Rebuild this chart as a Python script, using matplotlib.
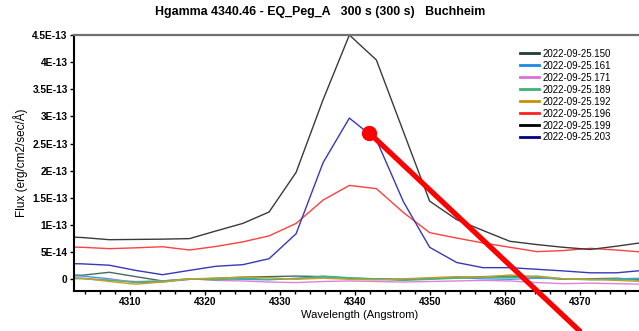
import matplotlib
matplotlib.use('Agg')
import matplotlib.pyplot as plt
from matplotlib.lines import Line2D
from matplotlib.ticker import FuncFormatter, MultipleLocator

plt.rcParams['font.family'] = ['Liberation Sans', 'DejaVu Sans']

# wavelength grid (Angstrom)
wavelength = [4300.0, 4303.6, 4307.2, 4310.7, 4314.3, 4317.9, 4321.4, 4325.0,
              4328.5, 4332.1, 4335.7, 4339.2, 4342.8, 4346.4, 4349.9, 4353.5,
              4357.0, 4360.6, 4364.2, 4367.7, 4371.3, 4374.8, 4378.4, 4382.0]

# flux in units of 1e-14 erg/cm2/sec/A
flux_150 = [0.9, 0.75, 1.3, 0.5, -0.3, 0.0, 0.2, 0.4, 0.5, 0.6, 0.5, 0.2,
            0.1, 0.0, 0.1, 0.3, 0.5, 0.6, 0.4, 0.0, 0.1, 0.2, -0.1, -0.2]
flux_161 = [0.7, 0.6, 0.1, -0.6, -0.5, 0.0, 0.1, 0.0, -0.1, 0.2, 0.4, 0.2,
            0.1, 0.0, 0.2, 0.3, 0.1, 0.0, 0.2, 0.1, 0.0, 0.1, 0.2, 0.2]
flux_171 = [0.3, 0.2, -0.1, -0.4, -0.3, 0.1, -0.2, -0.3, -0.5, -0.6, -0.4, -0.3,
            -0.4, -0.5, -0.4, -0.3, -0.2, -0.3, -0.6, -0.8, -0.7, -0.8, -0.9, -0.9]
flux_189 = [0.2, 0.1, -0.2, -0.5, -0.3, 0.1, -0.1, 0.2, 0.0, 0.1, 0.6, 0.3,
            0.0, -0.2, 0.0, 0.2, 0.4, 0.3, 0.6, 0.1, -0.1, 0.0, -0.2, -0.3]
flux_192 = [0.4, 0.2, -0.4, -0.9, -0.5, 0.1, 0.2, 0.4, 0.3, 0.0, 0.2, 0.0,
            -0.1, 0.1, 0.3, 0.5, 0.4, 0.8, 0.5, 0.1, 0.0, -0.2, -0.4, -0.5]
flux_196 = [6.0, 5.9, 5.65, 5.8, 6.0, 5.4, 6.05, 6.9, 8.0, 10.3, 14.6, 17.3,
            16.7, 12.3, 8.6, 7.6, 6.7, 5.9, 5.1, 5.3, 5.7, 5.4, 5.0, 4.8]
flux_199 = [7.9, 7.7, 7.3, 7.35, 7.4, 7.5, 8.9, 10.3, 12.4, 19.7, 33.1, 45.0,
            40.4, 27.2, 14.4, 11.0, 9.0, 7.0, 6.4, 5.9, 5.5, 6.1, 6.8, 7.2]
flux_203 = [2.95, 2.85, 2.6, 1.65, 0.85, 1.65, 2.4, 2.7, 3.8, 8.4, 21.5, 29.7,
            25.7, 14.3, 5.9, 3.1, 2.15, 2.15, 1.85, 1.55, 1.2, 1.2, 1.65, 1.9]

labels = ['2022-09-25.150', '2022-09-25.161', '2022-09-25.171', '2022-09-25.189',
          '2022-09-25.192', '2022-09-25.196', '2022-09-25.199', '2022-09-25.203']
series = [flux_150, flux_161, flux_171, flux_189, flux_192, flux_196, flux_199, flux_203]
legend_colors = ['#1f3d35', '#1e88e5', '#da70d6', '#3cb371',
                 '#c8900a', '#ff2020', '#000000', '#000080']
line_colors = ['#4a6a60', '#3aa0e8', '#e080dc', '#40b870',
               '#c8a020', '#ff4040', '#3a3a3a', '#3838b8']


def flux_label(v, pos):
    if abs(v) < 1e-20:
        return '0'
    return '{:.1E}'.format(v).replace('.0E', 'E')


fig = plt.figure(figsize=(6.39, 3.31), dpi=100)
ax = fig.add_axes([74 / 639, 40 / 331, 571 / 639, 256 / 331])

for values, color in zip(series, line_colors):
    ax.plot(wavelength, [v * 1e-14 for v in values], color=color, lw=1.0)

ax.set_xlim(4302.5, 4378.6)
ax.set_ylim(-2.15e-14, 4.5e-13)
ax.xaxis.set_major_locator(MultipleLocator(10))
ax.xaxis.set_minor_locator(MultipleLocator(2))
ax.yaxis.set_major_locator(MultipleLocator(5e-14))
ax.yaxis.set_major_formatter(FuncFormatter(flux_label))
ax.tick_params(which='both', direction='out', labelsize=7.3, width=1, pad=1.5)
ax.tick_params(which='major', length=3)
ax.tick_params(which='minor', length=2)
for lab in ax.get_xticklabels() + ax.get_yticklabels():
    lab.set_fontweight('bold')

for side in ['left', 'bottom']:
    ax.spines[side].set_linewidth(1.5)
ax.spines['top'].set_color('#707070')
ax.spines['top'].set_linewidth(1.6)
ax.spines['right'].set_visible(False)

ax.set_xlabel('Wavelength (Angstrom)', fontsize=8, labelpad=2)
ax.set_ylabel('Flux (erg/cm2/sec/Å)', fontsize=8.5, labelpad=3)

fig.text(320 / 639, 1 - 12 / 331,
         'Hgamma 4340.46 - EQ_Peg_A   300 s (300 s)   Buchheim',
         ha='center', va='center', fontsize=8.9, fontweight='bold')

handles = [Line2D([], [], color=c, lw=2) for c in legend_colors]
ax.legend(handles, labels, loc='upper left', frameon=False, fontsize=7,
          bbox_to_anchor=(515 / 639, 1 - 44 / 331), bbox_transform=fig.transFigure,
          borderpad=0, handlelength=2.0, handletextpad=0.3, labelspacing=0.2)

# red pointer drawn over the chart
fig.add_artist(Line2D([369, 585], [331 - 132.7, 331 - 336], color='red', lw=3.8,
                      transform=None, solid_capstyle='butt'))
fig.add_artist(Line2D([369], [331 - 132.7], marker='o', markersize=10, color='red',
                      transform=None))

fig.savefig('out.png', dpi=100)
